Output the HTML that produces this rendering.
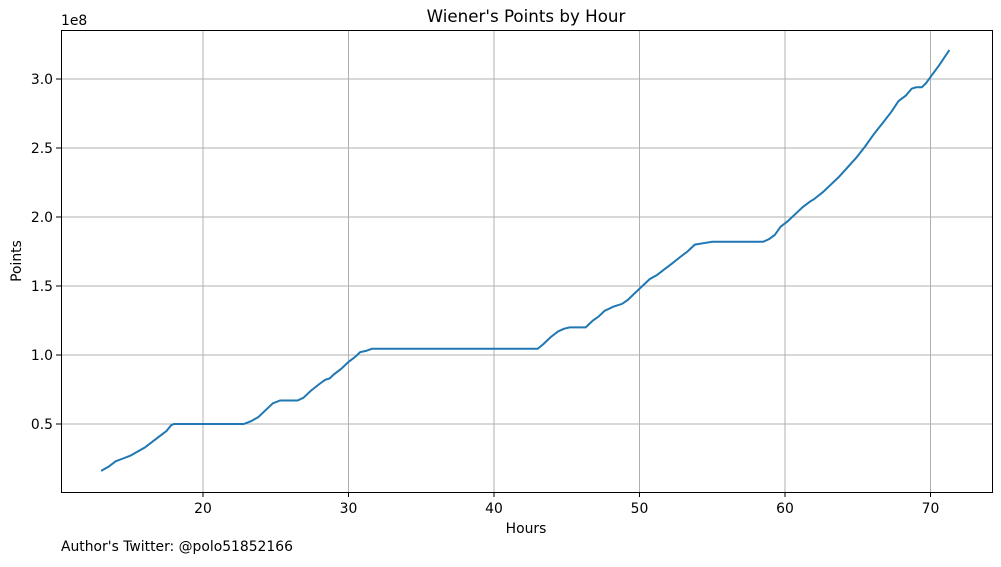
<!DOCTYPE html>
<html><head><meta charset="utf-8"><style>
body{margin:0;background:#fff;}
svg text{font-family:"DejaVu Sans","Liberation Sans",sans-serif;fill:#000;}
</style></head><body>
<svg id="chart" width="1001" height="562">
<rect x="0" y="0" width="1001" height="562" fill="#fff"/>
<g id="grid"></g>
<path id="line" fill="none" stroke="#1f77b4" stroke-width="2"/>
<rect x="61.5" y="30.5" width="931" height="462" fill="none" stroke="#000" stroke-width="1"/>
<g id="ticks"></g>
<text x="526" y="22" font-size="16.7" text-anchor="middle">Wiener's Points by Hour</text>
<text x="526" y="533" font-size="13.9" text-anchor="middle">Hours</text>
<text x="21" y="261" font-size="13.9" text-anchor="middle" transform="rotate(-90 21 261)">Points</text>
<text x="61" y="25" font-size="13.9">1e8</text>
<text x="61" y="551" font-size="13.9">Author's Twitter: @polo51852166</text>
</svg>
<script>
const hours=[13.0,13.5,14.0,14.5,15.0,15.5,16.0,16.5,17.0,17.5,17.8,18.0,20,22.8,23.3,23.8,24.3,24.8,25.3,26.5,26.9,27.4,28.0,28.4,28.7,29.0,29.5,30.0,30.5,30.8,31.2,31.6,32,43,43.4,43.9,44.4,44.8,45.2,46.3,46.8,47.2,47.6,48.2,48.8,49.2,49.7,50.2,50.7,51.2,51.7,52.2,52.8,53.3,53.8,54.4,55,58.5,58.9,59.3,59.7,60.2,60.7,61.2,61.7,62.0,62.6,63.1,63.7,64.3,64.9,65.5,66.1,66.7,67.3,67.8,68.3,68.7,69.0,69.4,69.7,70.1,70.6,71.3];
const points=[0.16,0.19,0.23,0.25,0.27,0.30,0.33,0.37,0.41,0.45,0.49,0.50,0.50,0.50,0.52,0.55,0.60,0.65,0.67,0.67,0.69,0.74,0.79,0.82,0.83,0.86,0.90,0.95,0.99,1.02,1.03,1.045,1.045,1.045,1.08,1.13,1.17,1.19,1.20,1.20,1.25,1.28,1.32,1.35,1.37,1.40,1.45,1.50,1.55,1.58,1.62,1.66,1.71,1.75,1.80,1.81,1.82,1.82,1.84,1.87,1.93,1.97,2.02,2.07,2.11,2.13,2.18,2.23,2.29,2.36,2.43,2.51,2.60,2.68,2.76,2.84,2.88,2.93,2.94,2.94,2.97,3.03,3.10,3.21];
const xTicks=[20,30,40,50,60,70];
const yTicks=[0.5,1.0,1.5,2.0,2.5,3.0];
const yTickLabels=["0.5","1.0","1.5","2.0","2.5","3.0"];
const X=v=>203+(v-20)*14.55;
const Y=v=>424-(v-0.5)*138;
const NS="http://www.w3.org/2000/svg";
const grid=document.getElementById('grid'),ticks=document.getElementById('ticks');
function mk(tag,attrs,parent){const e=document.createElementNS(NS,tag);for(const k in attrs)e.setAttribute(k,attrs[k]);parent.appendChild(e);return e;}
xTicks.forEach(t=>{const x=X(t);
 const g=mk('line',{x1:x,x2:x,y1:30,y2:492,stroke:'#b0b0b0','stroke-width':1},grid);
 
 
 const tk=mk('line',{x1:x,x2:x,y1:492,y2:497,stroke:'#000'},ticks);
 
 
 const tx=mk('text',{x:x,y:513,'font-size':13.9,'text-anchor':'middle'},ticks);tx.textContent=t;
 
 
});
yTicks.forEach((t,i)=>{const y=Y(t);
 const g=mk('line',{x1:61,x2:992,y1:y,y2:y,stroke:'#b0b0b0','stroke-width':1},grid);
 
 
 const tk=mk('line',{x1:56,x2:61,y1:y,y2:y,stroke:'#000'},ticks);
 
 
 const tx=mk('text',{x:53,y:y+5,'font-size':13.9,'text-anchor':'end'},ticks);tx.textContent=yTickLabels[i];
 
 
});
document.getElementById('line').setAttribute('d',hours.map((h,i)=>(i?'L':'M')+X(h).toFixed(1)+' '+Y(points[i]).toFixed(1)).join(' '));
</script>
</body></html>
